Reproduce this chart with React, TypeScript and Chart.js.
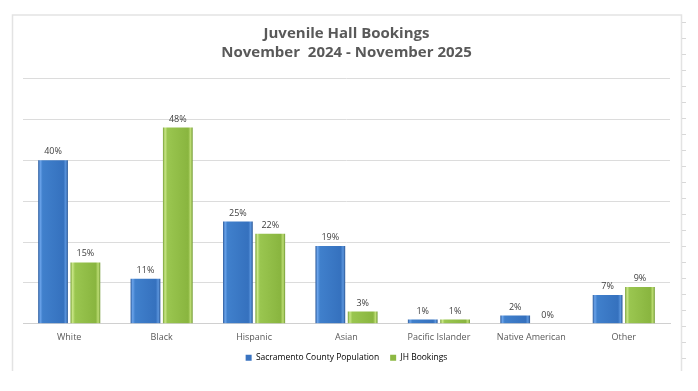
import React, { useEffect, useRef } from "react";
import { Chart, registerables } from "chart.js";

Chart.register(...registerables);

const categories = ["White", "Black", "Hispanic", "Asian", "Pacific Islander", "Native American", "Other"];
const popValues = [40, 11, 25, 19, 1, 2, 7];
const jhValues = [15, 48, 22, 3, 1, 0, 9];
const seriesNames = ["Sacramento County Population", "JH Bookings"];
const titleLines = ["Juvenile Hall Bookings", "November  2024 - November 2025"];

const FONT = "'Open Sans', 'Liberation Sans', sans-serif";
const CAT_PCT = 0.7;
const BAR_PCT = 0.92;

function barGradient(kind: "blue" | "green", dsIndex: number) {
  return (c: any) => {
    const chart = c.chart;
    const xs = chart.scales && chart.scales.x;
    const fallback = kind === "blue" ? "#3a73c0" : "#8db843";
    if (!xs || !chart.ctx || c.dataIndex == null || !isFinite(xs.width) || xs.width <= 0) return fallback;
    const catW = xs.width / categories.length;
    const slot = (catW * CAT_PCT) / 2;
    const bw = slot * BAR_PCT;
    const center = xs.getPixelForValue(c.dataIndex) + (dsIndex - 0.5) * slot;
    const x0 = center - bw / 2;
    const x1 = center + bw / 2;
    const g = chart.ctx.createLinearGradient(x0, 0, x1, 0);
    if (kind === "blue") {
      g.addColorStop(0, "#2b5a9b");
      g.addColorStop(0.07, "#6aa3ea");
      g.addColorStop(0.15, "#4080cc");
      g.addColorStop(0.85, "#3571be");
      g.addColorStop(0.93, "#5b95dd");
      g.addColorStop(1, "#285594");
    } else {
      g.addColorStop(0, "#76a036");
      g.addColorStop(0.07, "#c9e686");
      g.addColorStop(0.15, "#9ac650");
      g.addColorStop(0.85, "#89b53f");
      g.addColorStop(0.93, "#bddd74");
      g.addColorStop(1, "#709932");
    }
    return g;
  };
}

const framePlugin = {
  id: "frame",
  beforeDraw(chart: any) {
    const ctx = chart.ctx;
    ctx.save();
    ctx.fillStyle = "#ffffff";
    ctx.fillRect(0, 0, chart.width, chart.height);
    ctx.strokeStyle = "#e3e3e3";
    ctx.lineWidth = 1.5;
    ctx.beginPath();
    ctx.moveTo(12.5, 371);
    ctx.lineTo(12.5, 15);
    ctx.lineTo(681.5, 15);
    ctx.lineTo(681.5, 371);
    ctx.stroke();
    ctx.strokeStyle = "#d8d8d8";
    ctx.lineWidth = 1;
    for (let y = 22; y < 371; y += 16) {
      ctx.beginPath();
      ctx.moveTo(682, y + 0.5);
      ctx.lineTo(686, y + 0.5);
      ctx.stroke();
    }
    ctx.restore();
  },
};

const labelPlugin = {
  id: "valueLabels",
  afterDatasetsDraw(chart: any) {
    const ctx = chart.ctx;
    ctx.save();
    ctx.font = `9px ${FONT}`;
    ctx.fillStyle = "#404040";
    ctx.textAlign = "center";
    ctx.textBaseline = "bottom";
    chart.data.datasets.forEach((ds: any, i: number) => {
      const meta = chart.getDatasetMeta(i);
      meta.data.forEach((bar: any, j: number) => {
        ctx.fillText(ds.data[j] + "%", bar.x, bar.y - 4);
      });
    });
    ctx.restore();
  },
};

export default function App() {
  const ref = useRef<HTMLCanvasElement>(null);
  useEffect(() => {
    document.body.style.margin = "0";
    const chart = new Chart(ref.current!, {
      type: "bar",
      data: {
        labels: categories,
        datasets: [
          {
            label: seriesNames[0],
            data: popValues,
            backgroundColor: barGradient("blue", 0),
            borderWidth: 0,
            categoryPercentage: CAT_PCT,
            barPercentage: BAR_PCT,
          },
          {
            label: seriesNames[1],
            data: jhValues,
            backgroundColor: barGradient("green", 1),
            borderWidth: 0,
            categoryPercentage: CAT_PCT,
            barPercentage: BAR_PCT,
          },
        ],
      },
      options: {
        animation: false,
        responsive: false,
        maintainAspectRatio: false,
        layout: { padding: { left: 23, right: 28, top: 25, bottom: 19 } },
        scales: {
          x: {
            grid: { display: false },
            border: { display: true, color: "#d0d0d0" },
            ticks: { color: "#595959", font: { family: FONT, size: 9 }, padding: 0, maxRotation: 0 },
          },
          y: {
            min: 0,
            max: 60,
            ticks: { display: false, stepSize: 10 },
            grid: { color: "#dcdcdc", drawTicks: false },
            border: { display: false },
          },
        },
        plugins: {
          title: {
            display: true,
            text: titleLines,
            color: "#595959",
            font: { family: FONT, size: 15, weight: "bold", lineHeight: 1.22 },
            padding: { top: 0, bottom: 17 },
          },
          legend: {
            position: "bottom",
            labels: {
              color: "#595959",
              font: { family: FONT, size: 8.5 },
              boxWidth: 6,
              boxHeight: 6,
              padding: 11,
              generateLabels: (ch: any) =>
                ch.data.datasets.map((ds: any, i: number) => ({
                  text: ds.label,
                  fillStyle: i === 0 ? "#3a73c0" : "#8db843",
                  strokeStyle: i === 0 ? "#3a73c0" : "#8db843",
                  lineWidth: 0,
                  datasetIndex: i,
                  hidden: false,
                })),
            },
          },
          tooltip: { enabled: false },
        },
      },
      plugins: [framePlugin, labelPlugin],
    });
    return () => chart.destroy();
  }, []);
  return <canvas ref={ref} width={698} height={391} style={{ display: "block" }} />;
}
